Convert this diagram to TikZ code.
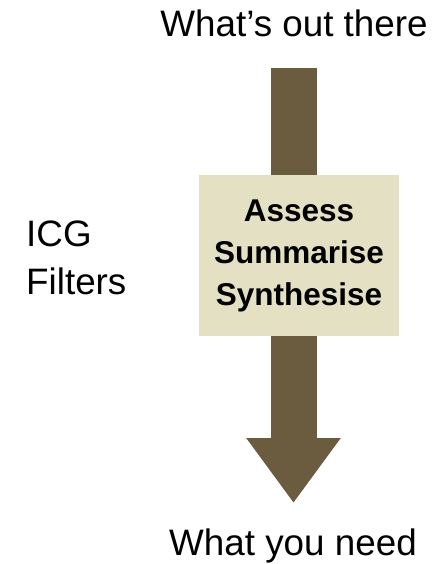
\documentclass[tikz,border=0pt]{standalone}
\usepackage{fontspec}
\setmainfont{Liberation Sans}
\usepackage{xcolor}
\usepackage{tikz}
\usetikzlibrary{positioning,arrows.meta}

\definecolor{arrowbrown}{HTML}{6B5B3F}
\definecolor{boxbeige}{HTML}{E4E0C4}

\begin{document}
\begin{tikzpicture}[x=1pt, y=-1pt,
    label text/.style={font=\fontsize{36.8}{48}\selectfont, inner sep=0pt},
    big arrow/.style={line width=46pt, arrowbrown, -{Triangle[length=65pt, width=90pt]}},
    filter box/.style={fill=boxbeige, minimum width=200pt, minimum height=161pt,
        align=center, font=\fontsize{31.5}{42}\selectfont\bfseries}]

    \useasboundingbox (0,0) rectangle (442,564);

    % Nodes
    \node (source) [label text, anchor=base] at (294,37) {What’s out there};
    \node (result) [label text, anchor=base] at (293,555) {What you need};
    \node (filters) [label text, anchor=base west, align=left] at (26,294) {ICG\\Filters};
    \coordinate (top) at (293.5,68);
    \coordinate (tip) at (293.5,503);

    % Arrow, then the box on top of it
    \draw[big arrow] (top) -- (tip);
    \node (steps) [filter box] at (299,255.5) {Assess\\Summarise\\Synthesise};

\end{tikzpicture}
\end{document}
